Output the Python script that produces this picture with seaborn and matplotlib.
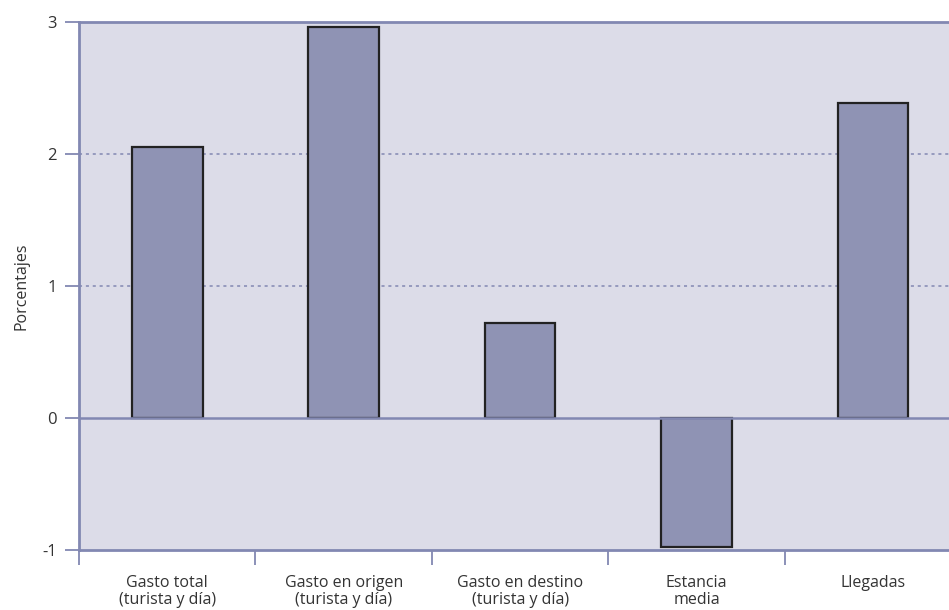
import matplotlib
matplotlib.use("Agg")
import matplotlib.pyplot as plt
import seaborn as sns
import pandas as pd

categorias = ["Gasto total\n(turista y día)", "Gasto en origen\n(turista y día)",
              "Gasto en destino\n(turista y día)", "Estancia\nmedia", "Llegadas"]
valores = [2.05, 2.96, 0.72, -0.98, 2.39]
y_ticks = [-1, 0, 1, 2, 3]

sns.set_theme(style="white")
plt.rcParams["font.family"] = ["Open Sans", "DejaVu Sans"]

fondo = "#dcdce8"
barra = "#8f93b4"
eje = "#8288b2"
texto = "#333333"

df = pd.DataFrame({"categoria": categorias, "valor": valores})

fig = plt.figure(figsize=(9.49, 6.10), dpi=100)
ax = fig.add_axes([79 / 949, 60 / 610, 870 / 949, 528 / 610])
ax.set_facecolor(fondo)

sns.barplot(data=df, x="categoria", y="valor", color=barra, width=0.40,
            edgecolor="#222222", linewidth=1.6, saturation=1, ax=ax, zorder=3)

ax.set_xlim(-0.5, 4.43)
ax.set_ylim(-1, 3)
ax.set_yticks(y_ticks)
ax.set_yticklabels([str(v) for v in y_ticks], fontsize=12, color=texto)

for v in [1, 2]:
    ax.axhline(v, color=eje, lw=1.1, ls=(0, (2, 2.5)), zorder=1)
ax.axhline(0, color=eje, lw=1.8, zorder=4)

ax.set_xticks(range(len(categorias)))
ax.set_xticklabels(categorias, fontsize=11.5, color=texto, linespacing=1.05)
ax.tick_params(axis="x", which="major", bottom=True, length=0, pad=18)
ax.set_xticks([-0.5, 0.5, 1.5, 2.5, 3.5], minor=True)
ax.tick_params(axis="x", which="minor", bottom=True, length=11, width=1.3,
               color=eje, direction="out")
ax.tick_params(axis="y", left=True, length=10, width=1.3, color=eje,
               direction="out", pad=6)

for lado in ["left", "bottom", "top"]:
    ax.spines[lado].set_color(eje)
    ax.spines[lado].set_linewidth(2)
ax.spines["right"].set_visible(False)

ax.set_xlabel("")
ax.set_ylabel("")
fig.text(22 / 949, 1 - 286 / 610, "Porcentajes", rotation=90, fontsize=11.5,
         color=texto, ha="center", va="center")

fig.savefig("out.png", dpi=100)
